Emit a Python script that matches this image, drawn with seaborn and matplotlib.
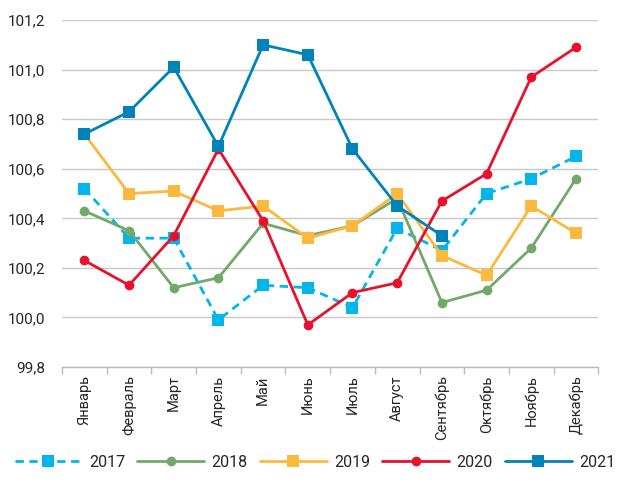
import seaborn as sns, matplotlib.pyplot as plt
import pandas as pd
import numpy as np

months = ['Январь', 'Февраль', 'Март', 'Апрель', 'Май', 'Июнь', 'Июль',
          'Август', 'Сентябрь', 'Октябрь', 'Ноябрь', 'Декабрь']
v2017 = [100.52, 100.32, 100.32, 99.99, 100.13, 100.12, 100.04, 100.36, 100.27, 100.50, 100.56, 100.65]
v2018 = [100.43, 100.35, 100.12, 100.16, 100.38, 100.33, 100.37, 100.48, 100.06, 100.11, 100.28, 100.56]
v2019 = [100.74, 100.50, 100.51, 100.43, 100.45, 100.32, 100.37, 100.50, 100.25, 100.17, 100.45, 100.34]
v2020 = [100.23, 100.13, 100.33, 100.68, 100.39, 99.97, 100.10, 100.14, 100.47, 100.58, 100.97, 101.09]
v2021 = [100.74, 100.83, 101.01, 100.69, 101.10, 101.06, 100.68, 100.45, 100.33]

series = {'2017': v2017, '2018': v2018, '2019': v2019, '2020': v2020, '2021': v2021}
colors = {'2017': '#00B6EA', '2018': '#72A96A', '2019': '#FDB840', '2020': '#E8112D', '2021': '#0083B8'}
markers = {'2017': 's', '2018': 'o', '2019': 's', '2020': 'o', '2021': 's'}
dashes = {'2017': (3, 2), '2018': '', '2019': '', '2020': '', '2021': ''}

sns.set_style('white')
plt.rcParams['font.family'] = ['Roboto', 'DejaVu Sans']

fig = plt.figure(figsize=(6.2, 4.9), dpi=100)
ax = fig.add_axes([0.1, 0.251, 0.865, 0.708])

for year, vals in series.items():
    df = pd.DataFrame({'x': np.arange(len(vals)), 'y': vals})
    ms = 8.5 if markers[year] == 's' else 7
    kw = dict(linestyle=(0, dashes[year])) if dashes[year] else {}
    sns.lineplot(data=df, x='x', y='y', ax=ax, color=colors[year], marker=markers[year],
                 markersize=ms, markeredgewidth=0, linewidth=2, label=year, **kw)

ax.set_xlim(-0.5, 11.5)
ax.set_ylim(99.8, 101.2)
ax.set_yticks(np.arange(99.8, 101.21, 0.2))
ax.set_yticklabels([f'{t:.1f}'.replace('.', ',') for t in np.arange(99.8, 101.21, 0.2)], fontsize=11)
ax.set_xticks(np.arange(12))
ax.set_xticklabels(months, rotation=90, fontsize=10.5)
ax.set_xticks(np.arange(-0.5, 12), minor=True)
ax.tick_params(axis='x', which='major', length=0, pad=6)
ax.tick_params(axis='x', which='minor', length=5, color='#BBBBBB', width=1, bottom=True)
ax.tick_params(axis='y', length=0, pad=12)
ax.yaxis.grid(True, color='#C8C8C8', linewidth=1)
ax.set_axisbelow(True)
ax.set_xlabel('')
ax.set_ylabel('')
for s in ['left', 'right', 'top']:
    ax.spines[s].set_visible(False)
ax.spines['bottom'].set_color('#BBBBBB')
ax.spines['bottom'].set_linewidth(1)

handles, labels = ax.get_legend_handles_labels()
ax.get_legend().remove()
fig.legend(handles, labels, loc='center', bbox_to_anchor=(0.508, 0.057), ncol=5, frameon=False,
           fontsize=11.5, handlelength=4.2, columnspacing=0.75, handletextpad=0.45,
           borderaxespad=0, borderpad=0)

fig.savefig('out.png', dpi=100)
